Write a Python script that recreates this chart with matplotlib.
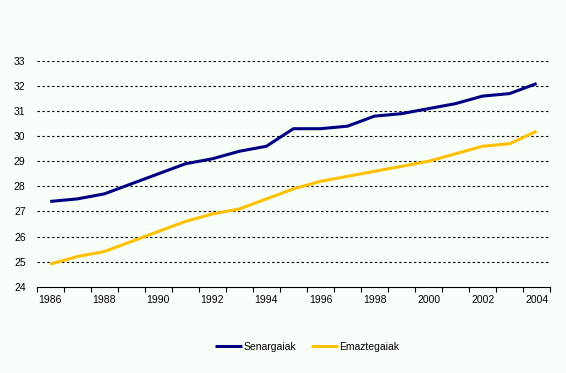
import numpy as np
import matplotlib
matplotlib.use('Agg')
from matplotlib import pyplot as plt

### DATA
years = list(range(1986, 2005))
senargaiak = [27.4, 27.5, 27.7, 28.1, 28.5, 28.9, 29.1, 29.4, 29.6, 30.3,
              30.3, 30.4, 30.8, 30.9, 31.1, 31.3, 31.6, 31.7, 32.1]
emaztegaiak = [24.9, 25.2, 25.4, 25.8, 26.2, 26.6, 26.9, 27.1, 27.5, 27.9,
               28.2, 28.4, 28.6, 28.8, 29.0, 29.3, 29.6, 29.7, 30.2]
y_ticks = list(range(24, 34))

### STYLE
bg = '#F8FFF8'
plt.rcParams['font.family'] = ['Liberation Sans', 'DejaVu Sans']
plt.rcParams['font.size'] = 7.5

fig = plt.figure(figsize=(5.66, 3.73), dpi=100, facecolor=bg)
ax = fig.add_axes([0.0648, 0.2314, 0.9072, 0.6051], facecolor=bg)

x = np.arange(len(years))
ax.plot(x, senargaiak, color='#000080', lw=2.2, label='Senargaiak', solid_capstyle='butt')
ax.plot(x, emaztegaiak, color='#FFC000', lw=2.2, label='Emaztegaiak', solid_capstyle='butt')

ax.set_xlim(-0.5, len(years) - 0.5)
ax.set_ylim(24, 33)
ax.set_yticks(y_ticks)
ax.set_yticklabels([str(v) for v in y_ticks])
for v in y_ticks[1:]:
    ax.axhline(v, color='black', lw=0.8, ls=(0, (2.2, 2.2)), zorder=0)

# category axis: ticks between categories, labels every second year
ax.set_xticks(np.arange(-0.5, len(years) + 0.5, 1))
ax.set_xticklabels([])
ax.set_xticks(x[::2], minor=True)
ax.set_xticklabels([str(y) for y in years[::2]], minor=True)
ax.tick_params(axis='x', which='major', direction='out', length=3.5, width=0.8, color='black')
ax.tick_params(axis='x', which='minor', length=0, pad=6)
ax.tick_params(axis='y', length=0, pad=8)

for s in ['top', 'right', 'left']:
    ax.spines[s].set_visible(False)
ax.spines['bottom'].set_linewidth(0.8)

fig.legend(loc='center', bbox_to_anchor=(0.543, 0.07), ncol=2, frameon=False,
           handlelength=2.6, handletextpad=0.15, columnspacing=1.35, fontsize=7.5)

plt.savefig('out.png', dpi=100, facecolor=bg)
